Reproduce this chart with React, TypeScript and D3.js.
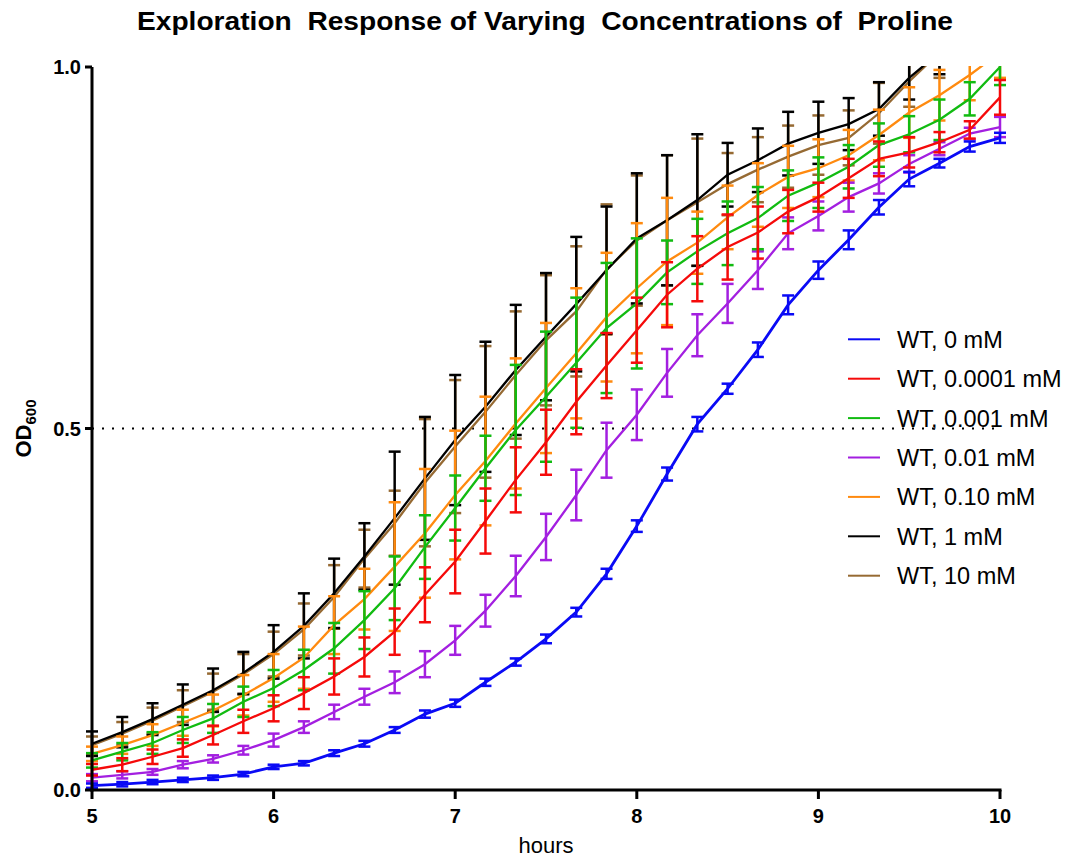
import React from "react";
import * as d3 from "d3";

// time points in minutes (every 10 min from 5 h to 10 h)
const minutes = [300, 310, 320, 330, 340, 350, 360, 370, 380, 390, 400, 410, 420, 430, 440, 450, 460, 470, 480, 490, 500, 510, 520, 530, 540, 550, 560, 570, 580, 590, 600];

const seriesNames = ["WT, 0 mM", "WT, 0.0001 mM", "WT, 0.001 mM", "WT, 0.01 mM", "WT, 0.10 mM", "WT, 1 mM", "WT, 10 mM"];
const seriesColors = ["#0A0AF5", "#F50A0A", "#11BB11", "#A31FE0", "#FF8A0F", "#000000", "#966A33"];

const wt0 = [0.006, 0.008, 0.011, 0.014, 0.017, 0.022, 0.032, 0.037, 0.051, 0.064, 0.083, 0.105, 0.120, 0.149, 0.177, 0.209, 0.246, 0.299, 0.365, 0.437, 0.506, 0.555, 0.609, 0.671, 0.719, 0.761, 0.806, 0.845, 0.867, 0.890, 0.902];
const wt0Err = [0.003, 0.003, 0.003, 0.003, 0.003, 0.003, 0.003, 0.003, 0.004, 0.004, 0.004, 0.005, 0.005, 0.005, 0.005, 0.006, 0.006, 0.007, 0.008, 0.009, 0.010, 0.007, 0.010, 0.013, 0.012, 0.013, 0.010, 0.010, 0.006, 0.007, 0.007];

const wt00001 = [0.028, 0.035, 0.046, 0.058, 0.076, 0.095, 0.113, 0.134, 0.157, 0.184, 0.219, 0.270, 0.316, 0.372, 0.429, 0.481, 0.537, 0.587, 0.636, 0.685, 0.721, 0.751, 0.771, 0.800, 0.820, 0.846, 0.873, 0.882, 0.896, 0.913, 0.958];
const wt00001Err = [0.008, 0.009, 0.010, 0.012, 0.013, 0.016, 0.018, 0.022, 0.025, 0.027, 0.032, 0.038, 0.044, 0.045, 0.045, 0.045, 0.045, 0.045, 0.045, 0.045, 0.045, 0.045, 0.036, 0.030, 0.020, 0.027, 0.024, 0.021, 0.014, 0.012, 0.024];

const wt0001 = [0.041, 0.053, 0.065, 0.083, 0.099, 0.122, 0.141, 0.166, 0.196, 0.235, 0.279, 0.336, 0.390, 0.445, 0.498, 0.544, 0.591, 0.639, 0.673, 0.716, 0.745, 0.770, 0.791, 0.822, 0.840, 0.862, 0.892, 0.907, 0.927, 0.956, 1.0];
const wt0001Err = [0.010, 0.012, 0.015, 0.018, 0.020, 0.021, 0.025, 0.028, 0.035, 0.040, 0.044, 0.044, 0.045, 0.045, 0.090, 0.090, 0.090, 0.090, 0.090, 0.044, 0.045, 0.044, 0.043, 0.035, 0.035, 0.030, 0.030, 0.025, 0.028, 0.023, 0.025];

const wt001 = [0.017, 0.021, 0.025, 0.035, 0.043, 0.055, 0.069, 0.087, 0.108, 0.129, 0.149, 0.174, 0.207, 0.248, 0.296, 0.350, 0.408, 0.470, 0.519, 0.577, 0.629, 0.673, 0.719, 0.770, 0.794, 0.820, 0.839, 0.866, 0.887, 0.908, 0.917];
const wt001Err = [0.005, 0.005, 0.004, 0.005, 0.005, 0.006, 0.009, 0.008, 0.010, 0.011, 0.015, 0.018, 0.020, 0.022, 0.028, 0.032, 0.035, 0.038, 0.035, 0.033, 0.029, 0.027, 0.026, 0.022, 0.020, 0.020, 0.014, 0.012, 0.009, 0.008, 0.014];

const wt010 = [0.050, 0.062, 0.076, 0.093, 0.110, 0.131, 0.155, 0.183, 0.228, 0.264, 0.309, 0.355, 0.408, 0.455, 0.507, 0.556, 0.604, 0.654, 0.694, 0.731, 0.757, 0.792, 0.823, 0.848, 0.860, 0.878, 0.906, 0.937, 0.961, 0.989, 1.020];
const wt010Err = [0.010, 0.012, 0.015, 0.018, 0.022, 0.028, 0.033, 0.043, 0.040, 0.042, 0.089, 0.089, 0.089, 0.089, 0.090, 0.090, 0.090, 0.089, 0.090, 0.088, 0.043, 0.044, 0.044, 0.043, 0.040, 0.035, 0.035, 0.035, 0.035, 0.035, 0.035];

const wt1 = [0.064, 0.080, 0.098, 0.118, 0.138, 0.162, 0.191, 0.227, 0.272, 0.323, 0.376, 0.431, 0.484, 0.530, 0.581, 0.627, 0.672, 0.719, 0.763, 0.788, 0.816, 0.851, 0.871, 0.894, 0.909, 0.921, 0.942, 0.985, 1.020, 1.050, 1.080];
const wt1Err = [0.017, 0.021, 0.022, 0.028, 0.030, 0.029, 0.037, 0.045, 0.048, 0.046, 0.092, 0.085, 0.090, 0.090, 0.090, 0.088, 0.093, 0.088, 0.090, 0.090, 0.091, 0.044, 0.044, 0.044, 0.043, 0.036, 0.037, 0.030, 0.030, 0.030, 0.030];

const wt10 = [0.062, 0.078, 0.096, 0.116, 0.136, 0.160, 0.188, 0.222, 0.267, 0.320, 0.369, 0.425, 0.475, 0.523, 0.574, 0.622, 0.662, 0.720, 0.760, 0.788, 0.813, 0.838, 0.858, 0.876, 0.892, 0.902, 0.936, 0.980, 1.020, 1.050, 1.080];
const wt10Err = [0.012, 0.016, 0.018, 0.022, 0.025, 0.028, 0.031, 0.036, 0.044, 0.040, 0.045, 0.088, 0.092, 0.091, 0.088, 0.090, 0.090, 0.090, 0.090, 0.090, 0.088, 0.043, 0.045, 0.043, 0.041, 0.038, 0.042, 0.035, 0.035, 0.035, 0.035];

const seriesValues = [wt0, wt00001, wt0001, wt001, wt010, wt1, wt10];
const seriesErrors = [wt0Err, wt00001Err, wt0001Err, wt001Err, wt010Err, wt1Err, wt10Err];

const xTicks = [5, 6, 7, 8, 9, 10];
const yTicks = [0, 0.5, 1.0];

const W = 1079;
const H = 859;

export default function App() {
  const x = d3.scaleLinear().domain([5, 10]).range([92, 1000]);
  const y = d3.scaleLinear().domain([0, 1]).range([790, 67]);
  const hours = minutes.map((m) => m / 60);

  const line = d3
    .line<number>()
    .x((_, i) => x(hours[i]))
    .y((v) => y(v));

  const drawOrder = [6, 5, 4, 3, 2, 1, 0];
  const font = "'Liberation Sans', Arial, sans-serif";

  return (
    <svg
      width={W}
      height={H}
      style={{ position: "absolute", left: 0, top: 0, background: "#fff" }}
    >
      <defs>
        <clipPath id="plotClip">
          <rect x={0} y={y(1) - 1} width={W} height={y(0) - y(1) + 30} />
        </clipPath>
      </defs>
      <rect x={0} y={0} width={W} height={H} fill="#fff" />

      {/* title */}
      <text
        x={545}
        y={30}
        textAnchor="middle"
        fontFamily={font}
        fontWeight="bold"
        fontSize={25}
        style={{ whiteSpace: "pre" }}
        textLength={816}
        lengthAdjust="spacingAndGlyphs"
      >
        {"Exploration  Response of Varying  Concentrations of  Proline"}
      </text>

      {/* dotted reference line */}
      <line
        x1={x(5)}
        x2={x(10)}
        y1={y(0.5)}
        y2={y(0.5)}
        stroke="#000"
        strokeWidth={2}
        strokeDasharray="2,8"
      />

      {/* data */}
      <g clipPath="url(#plotClip)">
        {drawOrder.map((s) => {
          const vals = seriesValues[s];
          const errs = seriesErrors[s];
          const c = seriesColors[s];
          return (
            <g key={s}>
              {vals.map((v, i) => {
                const cx = x(hours[i]);
                const y1 = y(v + errs[i]);
                const y2 = y(v - errs[i]);
                const hw = 6;
                return (
                  <g key={i} stroke={c} strokeWidth={2.5}>
                    <line x1={cx} x2={cx} y1={y1} y2={y2} />
                    <line x1={cx - hw} x2={cx + hw} y1={y1} y2={y1} />
                    <line x1={cx - hw} x2={cx + hw} y1={y2} y2={y2} />
                  </g>
                );
              })}
              <path d={line(vals) || ""} fill="none" stroke={c} strokeWidth={s === 0 ? 2.8 : 2.3} />
            </g>
          );
        })}
      </g>

      {/* axes */}
      <line x1={x(5)} x2={x(5)} y1={y(1)} y2={y(0) + 1.5} stroke="#000" strokeWidth={3} />
      <line x1={x(5) - 1.5} x2={x(10) + 1.5} y1={y(0)} y2={y(0)} stroke="#000" strokeWidth={3} />
      {yTicks.map((t) => (
        <g key={t}>
          <line x1={x(5) - 7} x2={x(5)} y1={y(t)} y2={y(t)} stroke="#000" strokeWidth={3} />
          <text
            x={x(5) - 11}
            y={y(t) + 7}
            textAnchor="end"
            fontFamily={font}
            fontWeight="bold"
            fontSize={20}
          >
            {t.toFixed(1)}
          </text>
        </g>
      ))}
      {xTicks.map((t) => (
        <g key={t}>
          <line x1={x(t)} x2={x(t)} y1={y(0)} y2={y(0) + 9} stroke="#000" strokeWidth={3} />
          <text
            x={x(t)}
            y={y(0) + 33}
            textAnchor="middle"
            fontFamily={font}
            fontWeight="bold"
            fontSize={20}
          >
            {t}
          </text>
        </g>
      ))}

      {/* axis titles */}
      <text x={546} y={853} textAnchor="middle" fontFamily={font} fontSize={22}>
        hours
      </text>
      <text
        transform={`translate(31, ${y(0.5)}) rotate(-90)`}
        textAnchor="middle"
        fontFamily={font}
        fontWeight="bold"
        fontSize={22}
      >
        OD
        <tspan fontSize={15} dy={5}>
          600
        </tspan>
      </text>

      {/* legend */}
      {seriesNames.map((n, i) => {
        const ly = 339.3 + i * 39.4;
        return (
          <g key={n}>
            <line x1={848} x2={880} y1={ly} y2={ly} stroke={seriesColors[i]} strokeWidth={2} />
            <text x={897} y={ly + 8.5} fontFamily={font} fontSize={23.5}>
              {n}
            </text>
          </g>
        );
      })}
    </svg>
  );
}
